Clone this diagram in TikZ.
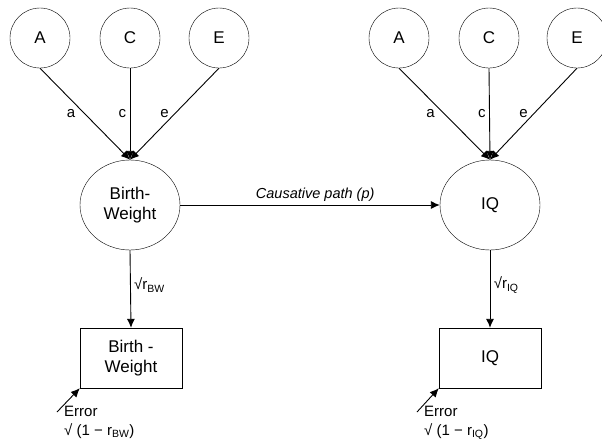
\documentclass[tikz,border=0pt]{standalone}
\usepackage{fontspec}
\setmainfont{Liberation Sans}
\usetikzlibrary{shapes.geometric,arrows.meta}

\tikzset{
  factor/.style={circle, draw, minimum size=60pt, inner sep=0pt, font=\fontsize{17}{20}\selectfont},
  latent/.style={ellipse, draw, minimum width=100pt, minimum height=90pt, inner sep=0pt, align=center, font=\fontsize{17}{20}\selectfont},
  observed/.style={rectangle, draw, minimum width=102pt, minimum height=60pt, inner sep=0pt, align=center, font=\fontsize{17}{20}\selectfont},
  path/.style={-{Latex[length=9pt,width=8pt]}, line width=0.9pt},
  lbl/.style={font=\fontsize{15}{19}\selectfont}
}

\begin{document}
\begin{tikzpicture}[x=1pt,y=-1pt]
    \useasboundingbox (0,0) rectangle (602,445);
    % Birth weight side
    \node[factor] (bwA) at (40,38) {A};
    \node[factor] (bwC) at (130,38) {C};
    \node[factor] (bwE) at (219,38) {E};
    \node[latent] (bw) at (130,205) {Birth-\\Weight};
    \node[observed] (bwbox) at (131,358) {Birth -\\Weight};
    % IQ side
    \node[factor] (iqA) at (399,38) {A};
    \node[factor] (iqC) at (489,38) {C};
    \node[factor] (iqE) at (577,38) {E};
    \node[latent] (iq) at (490,205) {IQ};
    \node[observed] (iqbox) at (490,358) {IQ};
    % ACE paths
    \draw[path] (bwA.south) -- node[lbl, left, pos=0.5, xshift=-6pt] {a} (bw.north);
    \draw[path] (bwC.south) -- node[lbl, left, pos=0.5] {c} (bw.north);
    \draw[path] (bwE.south) -- node[lbl, left, pos=0.5, xshift=-2pt] {e} (bw.north);
    \draw[path] (iqA.south) -- node[lbl, left, pos=0.5, xshift=-6pt] {a} (iq.north);
    \draw[path] (iqC.south) -- node[lbl, left, pos=0.5] {c} (iq.north);
    \draw[path] (iqE.south) -- node[lbl, left, pos=0.5, xshift=-2pt] {e} (iq.north);
    % Causative path
    \draw[path] (bw.east) -- node[above, pos=0.52, font=\fontsize{14.5}{16}\selectfont\itshape] {Causative path (p)} (iq.west);
    % Loadings
    \draw[path] (bw.south) -- node[lbl, right, pos=0.45] {√r\textsubscript{BW}} (bwbox.north);
    \draw[path] (iq.south) -- node[lbl, right, pos=0.45] {√r\textsubscript{IQ}} (iqbox.north);
    % Errors
    \coordinate (bwerr) at (57,412);
    \coordinate (iqerr) at (417,412);
    \draw[path] (bwerr) -- (bwbox.south west);
    \draw[path] (iqerr) -- (iqbox.south west);
    \node[lbl, anchor=north west, align=left, inner sep=0pt] (bwerrtext) at (64,406) {Error\\√ (1 − r\textsubscript{BW})};
    \node[lbl, anchor=north west, align=left, inner sep=0pt] (iqerrtext) at (424,406) {Error\\√ (1 − r\textsubscript{IQ})};
\end{tikzpicture}
\end{document}
